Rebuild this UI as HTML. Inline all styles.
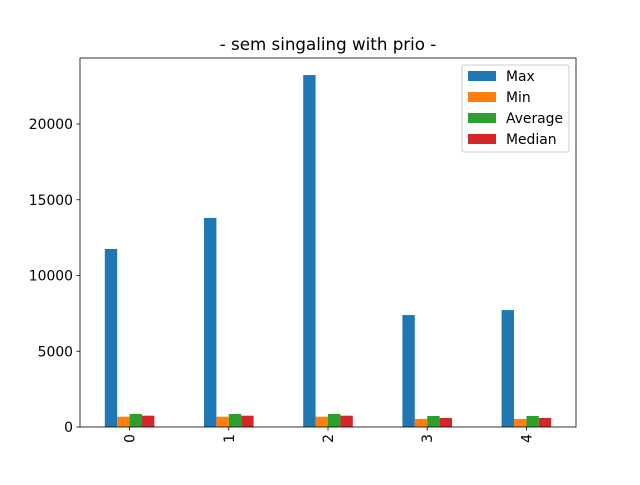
<!DOCTYPE html>
<html><head><meta charset="utf-8"><style>body{margin:0;background:#fff}svg{font-family:"DejaVu Sans","Liberation Sans",sans-serif}</style></head>
<body>
<svg id="c" width="640" height="480"></svg>
<script>
const categories=["0","1","2","3","4"];
const maxVals=[11750,13800,23230,7390,7720];
const minVals=[680,680,680,530,530];
const avgVals=[860,860,860,726,726];
const medVals=[746,746,746,594,594];
const yTicks=[0,5000,10000,15000,20000];
const seriesNames=["Max","Min","Average","Median"];
const colors=["#1f77b4","#ff7f0e","#2ca02c","#d62728"];
const series=[maxVals,minVals,avgVals,medVals];
const L=80,R=576,T=58,B=427;
const ns="http://www.w3.org/2000/svg",svg=document.getElementById('c');
function el(t,a,p){const e=document.createElementNS(ns,t);for(const k in a)e.setAttribute(k,a[k]);(p||svg).appendChild(e);return e;}
const x=v=>L+(v+0.5)*(R-L)/categories.length;
const y=v=>B-v*(303/20000);
const bw=0.125;
series.forEach((s,si)=>s.forEach((v,i)=>{
 const r=el('rect',{x:x(i-0.25+si*bw),y:y(v),width:bw*(R-L)/categories.length,height:B-y(v),fill:colors[si]});
 
 
}));
const f=el('rect',{x:L,y:T,width:R-L,height:B-T,fill:'none',stroke:'#000','stroke-width':0.8});

yTicks.forEach(v=>{
 const tl=el('line',{x1:L-3.5,x2:L,y1:y(v),y2:y(v),stroke:'#000','stroke-width':0.8});
 
 const t=el('text',{x:L-7,y:y(v)+5,'text-anchor':'end','font-size':13.9,fill:'#000'});t.textContent=v;
 
});
categories.forEach((c,i)=>{
 const tl=el('line',{x1:x(i),x2:x(i),y1:B,y2:B+3.5,stroke:'#000','stroke-width':0.8});
 
 const t=el('text',{x:0,y:0,'text-anchor':'end','font-size':13.9,transform:`translate(${x(i)+5},${B+7}) rotate(-90)`});t.textContent=c;
 
});
const ti=el('text',{x:(L+R)/2,y:50,'text-anchor':'middle','font-size':16.7});ti.textContent='- sem singaling with prio -';

const lg=el('g',{});
el('rect',{x:462,y:65,width:107,height:87,fill:'#fff','fill-opacity':0.8,stroke:'#ccc',rx:2},lg);
seriesNames.forEach((n,i)=>{
 const g=el('g',{},lg);
 el('rect',{x:468,y:71+i*21,width:28,height:10,fill:colors[i]},g);
 const t=el('text',{x:506,y:81+i*21,'font-size':13.9},g);t.textContent=n;
});
</script>
</body></html>
